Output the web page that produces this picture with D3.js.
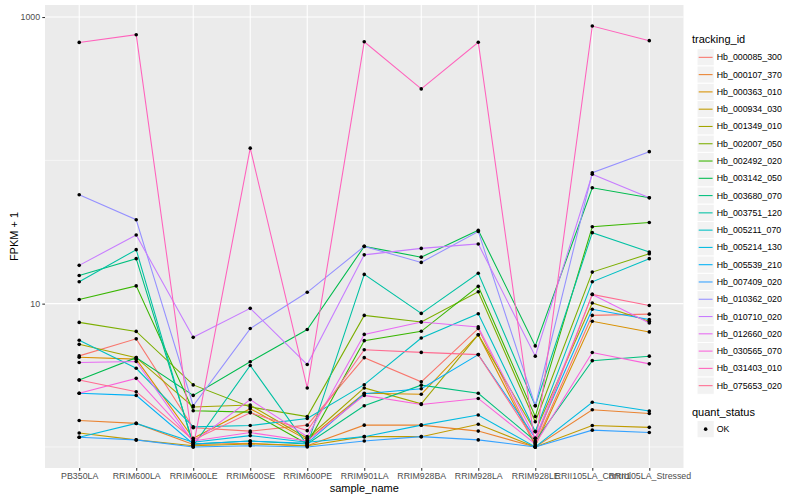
<!DOCTYPE html>
<html>
<head>
<meta charset="utf-8">
<script src="https://cdn.jsdelivr.net/npm/d3@7"></script>
<style>
  body { margin: 0; background: #fff; }
  svg { display: block; font-family: "Liberation Sans", Arial, sans-serif; }
</style>
</head>
<body>
<svg id="chart" width="800" height="500"></svg>
<script>
// samples on the x axis
const samples = ["PB350LA", "RRIM600LA", "RRIM600LE", "RRIM600SE", "RRIM600PE", "RRIM901LA",
  "RRIM928BA", "RRIM928LA", "RRIM928LE", "RRII105LA_Control", "RRII105LA_Stressed"]

const trackingIds = ["Hb_000085_300", "Hb_000107_370", "Hb_000363_010", "Hb_000934_030", "Hb_001349_010",
  "Hb_002007_050", "Hb_002492_020", "Hb_003142_050", "Hb_003680_070", "Hb_003751_120",
  "Hb_005211_070", "Hb_005214_130", "Hb_005539_210", "Hb_007409_020", "Hb_010362_020",
  "Hb_010710_020", "Hb_012660_020", "Hb_030565_070", "Hb_031403_010", "Hb_075653_020"]

// ggplot hue palette for 20 levels
const palette = ["#F8766D", "#EA8331", "#D89000", "#C09B00", "#A3A500", "#7CAE00", "#39B600", "#00BB4E",
  "#00BF7D", "#00C1A3", "#00BFC4", "#00BAE0", "#00B0F6", "#35A2FF", "#9590FF", "#C77CFF",
  "#E76BF3", "#FA62DB", "#FF62BC", "#FF6C91"]

// FPKM + 1, one value per sample
const Hb_000085_300 = [4.32, 5.68, 1.36, 1.29, 1.42, 4.2, 2.85, 6.7, 1.05, 8.28, 8.45]
const Hb_000107_370 = [1.53, 1.46, 1.04, 1.06, 1.02, 1.42, 1.42, 1.29, 1.0, 1.82, 1.71]
const Hb_000363_010 = [4.23, 4.1, 1.15, 1.85, 1.12, 2.37, 2.33, 6.07, 1.02, 7.53, 6.35]
const Hb_000934_030 = [1.25, 1.12, 1.02, 1.05, 1.02, 1.18, 1.18, 1.44, 1.0, 1.41, 1.37]
const Hb_001349_010 = [5.2, 4.2, 1.9, 1.96, 1.15, 2.58, 2.0, 6.07, 1.28, 10.1, 7.53]
const Hb_002007_050 = [7.4, 6.4, 2.71, 1.9, 1.63, 8.28, 7.45, 12.1, 1.5, 16.6, 22.3]
const Hb_002492_020 = [10.7, 13.3, 1.79, 1.75, 1.05, 5.52, 6.41, 13.2, 1.63, 34.4, 36.8]
const Hb_003142_050 = [2.93, 4.2, 2.29, 3.93, 6.6, 25.1, 21.1, 32.5, 5.07, 64.3, 54.8]
const Hb_003680_070 = [15.7, 20.6, 1.05, 1.1, 1.05, 1.94, 2.7, 2.37, 1.1, 4.0, 4.3]
const Hb_003751_120 = [14.2, 23.8, 1.02, 3.7, 1.03, 16.0, 8.55, 16.3, 1.94, 31.3, 22.9]
const Hb_005211_070 = [5.55, 3.54, 1.38, 1.41, 1.58, 2.72, 5.76, 8.5, 1.28, 14.2, 20.6]
const Hb_005214_130 = [1.17, 1.46, 1.08, 1.2, 1.08, 1.18, 1.42, 1.67, 1.0, 2.05, 1.78]
const Hb_005539_210 = [2.37, 2.29, 1.05, 1.1, 1.06, 2.35, 2.55, 4.41, 1.15, 9.13, 7.74]
const Hb_007409_020 = [1.17, 1.12, 1.0, 1.02, 1.0, 1.1, 1.18, 1.12, 1.0, 1.31, 1.26]
const Hb_010362_020 = [57.5, 38.5, 1.94, 6.7, 12.0, 25.1, 19.4, 31.9, 1.94, 82, 115]
const Hb_010710_020 = [18.5, 30.1, 5.82, 9.27, 3.76, 21.9, 24.3, 26.1, 4.3, 80, 54.8]
const Hb_012660_020 = [3.88, 3.95, 1.08, 2.14, 1.18, 6.1, 7.45, 6.88, 1.15, 11.6, 7.33]
const Hb_030565_070 = [2.37, 3.01, 1.1, 1.26, 1.1, 2.29, 1.98, 2.18, 1.05, 4.56, 3.8]
const Hb_031403_010 = [665, 753, 1.0, 121.6, 2.58, 672, 315, 667, 1.0, 865, 684]
const Hb_075653_020 = [2.93, 2.43, 1.12, 1.73, 1.3, 4.77, 4.57, 4.41, 1.08, 11.6, 9.7]

const seriesValues = [Hb_000085_300, Hb_000107_370, Hb_000363_010, Hb_000934_030, Hb_001349_010,
  Hb_002007_050, Hb_002492_020, Hb_003142_050, Hb_003680_070, Hb_003751_120,
  Hb_005211_070, Hb_005214_130, Hb_005539_210, Hb_007409_020, Hb_010362_020,
  Hb_010710_020, Hb_012660_020, Hb_030565_070, Hb_031403_010, Hb_075653_020]

const yBreaks = [10, 1000]
const yMinorBreaks = [1, 100]
const quantStatus = ["OK"]

// build long table
const series = trackingIds.map((id, i) => ({
  id: id,
  color: palette[i],
  points: samples.map((s, j) => ({ sample: s, value: seriesValues[i][j] }))
}))

const panel = { left: 45, right: 683.5, top: 5, bottom: 468 }

const svg = d3.select("#chart")

const x = d3.scalePoint()
  .domain(samples)
  .range([panel.left, panel.right])
  .padding(0.6)

// log scale with ggplot's 5% expansion in log space
const allValues = seriesValues.flat()
const lo = Math.log10(d3.min(allValues))
const hi = Math.log10(d3.max(allValues))
const pad = (hi - lo) * 0.05
const y = d3.scaleLog()
  .domain([Math.pow(10, lo - pad), Math.pow(10, hi + pad)])
  .range([panel.bottom, panel.top])

// panel background
svg.append("rect")
  .attr("x", panel.left).attr("y", panel.top)
  .attr("width", panel.right - panel.left).attr("height", panel.bottom - panel.top)
  .attr("fill", "#EBEBEB")

const grid = svg.append("g")
grid.selectAll(".minor").data(yMinorBreaks).enter().append("line")
  .attr("x1", panel.left).attr("x2", panel.right)
  .attr("y1", d => y(d)).attr("y2", d => y(d))
  .attr("stroke", "#fff").attr("stroke-width", 0.55)
grid.selectAll(".major").data(yBreaks).enter().append("line")
  .attr("x1", panel.left).attr("x2", panel.right)
  .attr("y1", d => y(d)).attr("y2", d => y(d))
  .attr("stroke", "#fff").attr("stroke-width", 1.07)
grid.selectAll(".vert").data(samples).enter().append("line")
  .attr("x1", d => x(d)).attr("x2", d => x(d))
  .attr("y1", panel.top).attr("y2", panel.bottom)
  .attr("stroke", "#fff").attr("stroke-width", 1.07)

// lines, in factor order
const line = d3.line().x(d => x(d.sample)).y(d => y(d.value))
svg.append("g").selectAll("path").data(series).enter().append("path")
  .attr("d", d => line(d.points))
  .attr("fill", "none")
  .attr("stroke", d => d.color)
  .attr("stroke-width", 1.07)

// points on top
svg.append("g").selectAll("circle")
  .data(series.flatMap(s => s.points))
  .enter().append("circle")
  .attr("cx", d => x(d.sample))
  .attr("cy", d => y(d.value))
  .attr("r", 1.8)
  .attr("fill", "#000")

// axes
const yAxis = svg.append("g")
  .attr("transform", "translate(" + panel.left + ",0)")
  .call(d3.axisLeft(y).tickValues(yBreaks).tickFormat(d3.format("d")).tickSize(2.7).tickPadding(2.2))
const xAxis = svg.append("g")
  .attr("transform", "translate(0," + panel.bottom + ")")
  .call(d3.axisBottom(x).tickSize(2.7).tickPadding(2.2))

for (const ax of [xAxis, yAxis]) {
  ax.select(".domain").remove()
  ax.selectAll(".tick line").attr("stroke", "#333333").attr("stroke-width", 1.07)
  ax.selectAll(".tick text").attr("fill", "#4D4D4D").style("font-size", "8.8px")
    .style("font-family", "'Liberation Sans', Arial, sans-serif")
}

svg.append("text")
  .attr("transform", "translate(14," + ((panel.top + panel.bottom) / 2) + ") rotate(-90)")
  .attr("text-anchor", "middle")
  .attr("dominant-baseline", "central")
  .style("font-size", "11px")
  .text("FPKM + 1")

svg.append("text")
  .attr("x", (panel.left + panel.right) / 2)
  .attr("y", 492)
  .attr("text-anchor", "middle")
  .style("font-size", "11px")
  .text("sample_name")

// legend: tracking_id
const keySize = 17.28
const legend = svg.append("g").attr("transform", "translate(697,0)")
legend.append("text")
  .attr("x", -5).attr("y", 42.5)
  .style("font-size", "11px")
  .text("tracking_id")

const keys = legend.selectAll(".key").data(series).enter().append("g")
  .attr("transform", (d, i) => "translate(0," + (48.7 + i * keySize) + ")")
keys.append("rect")
  .attr("width", keySize).attr("height", keySize)
  .attr("fill", "#F2F2F2").attr("stroke", "#fff").attr("stroke-width", 1)
keys.append("line")
  .attr("x1", 1.7).attr("x2", keySize - 1.7)
  .attr("y1", keySize / 2).attr("y2", keySize / 2)
  .attr("stroke", d => d.color).attr("stroke-width", 1.07)
keys.append("text")
  .attr("x", keySize + 2.5).attr("y", keySize / 2)
  .attr("dominant-baseline", "central")
  .style("font-size", "8.8px")
  .text(d => d.id)

// legend: quant_status
const legend2 = svg.append("g").attr("transform", "translate(697,0)")
legend2.append("text")
  .attr("x", -5).attr("y", 416)
  .style("font-size", "11px")
  .text("quant_status")
const qk = legend2.selectAll(".qkey").data(quantStatus).enter().append("g")
  .attr("transform", (d, i) => "translate(0," + (420.5 + i * keySize) + ")")
qk.append("rect")
  .attr("width", keySize).attr("height", keySize)
  .attr("fill", "#F2F2F2").attr("stroke", "#fff").attr("stroke-width", 1)
qk.append("circle")
  .attr("cx", keySize / 2).attr("cy", keySize / 2).attr("r", 1.8)
  .attr("fill", "#000")
qk.append("text")
  .attr("x", keySize + 2.5).attr("y", keySize / 2)
  .attr("dominant-baseline", "central")
  .style("font-size", "8.8px")
  .text(d => d)
</script>
</body>
</html>
